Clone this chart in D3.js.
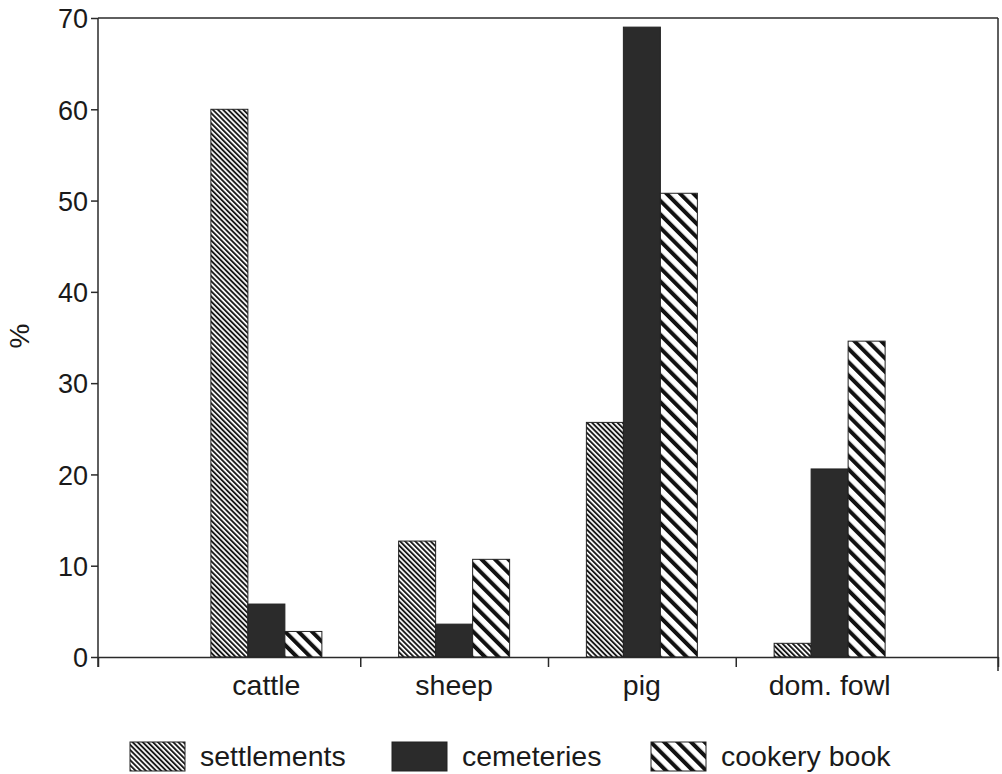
<!DOCTYPE html>
<html>
<head>
<meta charset="utf-8">
<script src="https://cdn.jsdelivr.net/npm/d3@7"></script>
<style>
  html, body { margin: 0; padding: 0; background: #fff; }
  svg { display: block; }
  text { font-family: "Liberation Sans", Arial, Helvetica, sans-serif; fill: #1a1a1a; }
</style>
</head>
<body>
<svg id="chart" width="1002" height="774"></svg>
<script>
const categories = ["cattle", "sheep", "pig", "dom. fowl"];
const seriesNames = ["settlements", "cemeteries", "cookery book"];
const settlements = [60, 12.7, 25.7, 1.5];
const cemeteries = [5.8, 3.6, 69, 20.6];
const cookeryBook = [2.8, 10.7, 50.8, 34.6];
const yTicks = [0, 10, 20, 30, 40, 50, 60, 70];
const yLabel = "%";

(function () {
const seriesValues = [settlements, cemeteries, cookeryBook];
const fills = ["url(#hatchFine)", "#2b2b2b", "url(#hatchBold)"];

const svg = d3.select("#chart");
const plotLeft = 98, plotRight = 998, plotTop = 18, plotBottom = 657;
const sidePad = 74.5;
const groupWidth = 111;

const defs = svg.append("defs");
const fine = defs.append("pattern").attr("id", "hatchFine")
  .attr("patternUnits", "userSpaceOnUse").attr("width", 3.6).attr("height", 10)
  .attr("patternTransform", "rotate(-45)");
fine.append("rect").attr("width", 3.6).attr("height", 10).attr("fill", "#fff");
fine.append("rect").attr("width", 1.9).attr("height", 10).attr("fill", "#1a1a1a");

const bold = defs.append("pattern").attr("id", "hatchBold")
  .attr("patternUnits", "userSpaceOnUse").attr("width", 9.5).attr("height", 10)
  .attr("patternTransform", "rotate(-45)");
bold.append("rect").attr("width", 9.5).attr("height", 10).attr("fill", "#fff");
bold.append("rect").attr("width", 4).attr("height", 10).attr("fill", "#111");

const x0 = d3.scaleBand().domain(categories).range([plotLeft + sidePad, plotRight - sidePad]).padding(0);
const x1 = d3.scaleBand().domain(seriesNames).range([0, groupWidth]).padding(0);
const y = d3.scaleLinear().domain([0, 70]).range([plotBottom, plotTop]);

// bars
const barData = [];
categories.forEach((c, i) => {
  seriesNames.forEach((s, j) => {
    barData.push({ c, s, v: seriesValues[j][i], fill: fills[j] });
  });
});
svg.append("g").selectAll("rect").data(barData).join("rect")
  .attr("x", d => x0(d.c) + (x0.step() - groupWidth) / 2 + x1(d.s))
  .attr("y", d => y(d.v))
  .attr("width", x1.bandwidth())
  .attr("height", d => y(0) - y(d.v))
  .attr("fill", d => d.fill)
  .attr("stroke", "#222")
  .attr("stroke-width", 1);

// frame: top and right
const lineColor = "#2a2a2a";
svg.append("line").attr("x1", plotLeft).attr("x2", plotRight).attr("y1", plotTop).attr("y2", plotTop)
  .attr("stroke", lineColor).attr("stroke-width", 1.5);
svg.append("line").attr("x1", plotRight).attr("x2", plotRight).attr("y1", plotTop).attr("y2", plotBottom + 14)
  .attr("stroke", lineColor).attr("stroke-width", 1.5);

// y axis
const yAxis = d3.axisLeft(y).tickValues(yTicks).tickSize(7).tickPadding(3).tickSizeOuter(0);
const gy = svg.append("g").attr("transform", `translate(${plotLeft},0)`).call(yAxis);
gy.select(".domain").attr("stroke", lineColor).attr("stroke-width", 1.5)
  .attr("d", `M0,${plotTop}V${plotBottom + 10}`);
gy.selectAll(".tick line").attr("stroke", lineColor).attr("stroke-width", 1.5);
gy.selectAll(".tick text").attr("font-size", 27).attr("font-family", "Liberation Sans, Arial, sans-serif")
  .attr("fill", "#1a1a1a").attr("dy", "0.36em");

// x axis
const boundaryTicks = [plotLeft].concat(categories.slice(1).map(c => x0(c))).concat([plotRight]);
const xLin = d3.scaleLinear().domain([plotLeft, plotRight]).range([plotLeft, plotRight]);
const xAxis = d3.axisBottom(xLin).tickValues(boundaryTicks).tickSize(10).tickFormat("").tickSizeOuter(0);
const gx = svg.append("g").attr("transform", `translate(0,${plotBottom})`).call(xAxis);
gx.select(".domain").attr("stroke", lineColor).attr("stroke-width", 1.5);
gx.selectAll(".tick line").attr("stroke", lineColor).attr("stroke-width", 1.5);

svg.append("g").selectAll("text").data(categories).join("text")
  .attr("x", d => x0(d) + x0.step() / 2)
  .attr("y", 695)
  .attr("text-anchor", "middle")
  .attr("font-size", 28.5)
  .text(d => d);

// y label
svg.append("text")
  .attr("transform", "translate(29,336) rotate(-90)")
  .attr("text-anchor", "middle")
  .attr("font-size", 28)
  .text(yLabel);

// legend
const legendX = [130, 392, 651];
const legend = svg.append("g");
seriesNames.forEach((s, j) => {
  legend.append("rect")
    .attr("x", legendX[j]).attr("y", 742).attr("width", 55).attr("height", 29)
    .attr("fill", fills[j]).attr("stroke", "#222").attr("stroke-width", 1);
  legend.append("text")
    .attr("x", legendX[j] + 70).attr("y", 766)
    .attr("font-size", 28.5)
    .text(s);
});
})();
</script>
</body>
</html>
